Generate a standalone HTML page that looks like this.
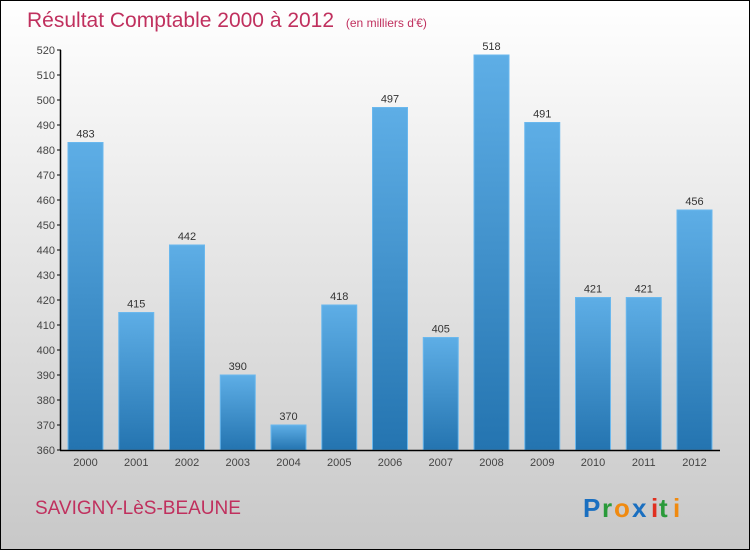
<!DOCTYPE html>
<html><head><meta charset="utf-8"><style>
html,body{margin:0;padding:0}
body{width:750px;height:550px;overflow:hidden;font-family:"Liberation Sans",sans-serif}
</style></head><body>
<svg width="750" height="550" xmlns="http://www.w3.org/2000/svg">
<defs>
<linearGradient id="bg" x1="0" y1="0" x2="0" y2="1"><stop offset="0" stop-color="#ffffff"/><stop offset="1" stop-color="#c8c8c8"/></linearGradient>
<linearGradient id="bar" x1="0" y1="0" x2="0" y2="1"><stop offset="0" stop-color="#5eaee6"/><stop offset="1" stop-color="#2474b0"/></linearGradient>
</defs>
<rect x="0.5" y="0.5" width="749" height="549" fill="url(#bg)" stroke="#000"/>
<text x="27" y="27" font-size="21" fill="#c0305e">Résultat Comptable 2000 à 2012 <tspan font-size="12" dx="6">(en milliers d'€)</tspan></text>
<g id="yaxis"></g>
<g id="bars"></g>
<g id="xaxis"></g>
<text x="35" y="514" font-size="19" fill="#c0305e">SAVIGNY-LèS-BEAUNE</text>
<g font-size="26" font-weight="bold">
<text x="583" y="517" fill="#1a6fc0">P</text><text x="602" y="517" fill="#2a9a3a">r</text><text x="614" y="517" fill="#f08a10">o</text><text x="632" y="517" fill="#1a6fc0">x</text><text x="651" y="517" fill="#e03020">i</text><text x="659" y="517" fill="#2a9a3a">t</text><text x="673" y="517" fill="#f08a10">i</text>
</g>
</svg>
<script>
const years=["2000","2001","2002","2003","2004","2005","2006","2007","2008","2009","2010","2011","2012"];
const values=[483,415,442,390,370,418,497,405,518,491,421,421,456];
const yTicks=[360,370,380,390,400,410,420,430,440,450,460,470,480,490,500,510,520];
const NS="http://www.w3.org/2000/svg";
function y(v){return 450-(v-360)*2.5;}
function xc(i){return 85.5+i*50.75;}
function mk(t,a,p,txt){const e=document.createElementNS(NS,t);for(const k in a)e.setAttribute(k,a[k]);if(txt!==undefined)e.textContent=txt;p.appendChild(e);return e;}
const ya=document.getElementById('yaxis'),ba=document.getElementById('bars'),xa=document.getElementById('xaxis');
mk('line',{x1:60.5,y1:50,x2:60.5,y2:450,stroke:'#000','stroke-width':1.5},ya);
yTicks.forEach(v=>{
 const l=mk('line',{x1:57,y1:y(v),x2:61,y2:y(v),stroke:'#000'},ya);
 
 
 const t=mk('text',{x:55,y:y(v)+4,'font-size':11,fill:'#444','text-anchor':'end'},ya,v);
 
 
});
values.forEach((v,i)=>{
 const r=mk('rect',{x:xc(i)-17.5,y:y(v),width:35,height:450-y(v),fill:'url(#bar)',stroke:'#6ab8ee','stroke-width':1},ba);
 
 
 const t=mk('text',{x:xc(i),y:y(v)-5,'font-size':11,fill:'#333','text-anchor':'middle'},ba,v);
 
 
 const xl=mk('text',{x:xc(i),y:466,'font-size':11,fill:'#444','text-anchor':'middle'},xa,years[i]);
 
 
});
mk('line',{x1:60,y1:450.5,x2:720,y2:450.5,stroke:'#000','stroke-width':1.5},xa);
</script>
</body></html>
